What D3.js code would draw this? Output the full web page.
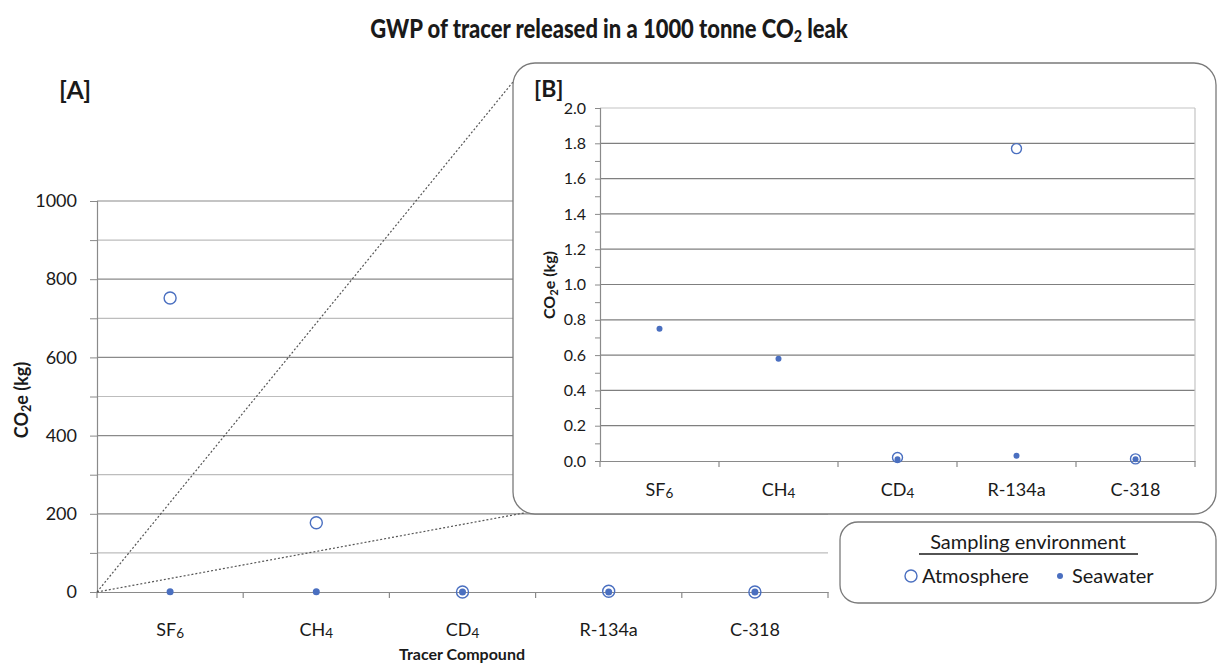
<!DOCTYPE html>
<html>
<head>
<meta charset="utf-8">
<script src="https://cdnjs.cloudflare.com/ajax/libs/d3/7.8.5/d3.min.js"></script>
<style>
  body { margin: 0; background: #fff; }
  text { font-family: Lato, "Open Sans", sans-serif; fill: #1a1a1a; }
</style>
</head>
<body>
<div id="chart"></div>
<script>
// data
var categories = ["SF6", "CH4", "CD4", "R-134a", "C-318"];
var atmosphere = [752, 177, 0.02, 1.77, 0.012];
var seawater   = [0.75, 0.58, 0.01, 0.03, 0.01];
var tickA = [0, 200, 400, 600, 800, 1000];
var tickB = [0, 0.2, 0.4, 0.6, 0.8, 1.0, 1.2, 1.4, 1.6, 1.8, 2.0];

var W = 1218, H = 663;
var blue = "#4a6fc0";

var svg = d3.select("#chart").append("svg")
  .attr("width", W).attr("height", H);

// write "SF6" as SF + subscript 6
function subLabel(sel, str, size) {
  sel.text(null);
  var m = str.match(/^([A-Z]+)(\d)$/);
  if (!m) { sel.text(str); return; }
  sel.append("tspan").text(m[1]);
  sel.append("tspan").attr("font-size", size * 0.75).attr("dy", 2).text(m[2]);
}

function co2Label(g, x, y, size) {
  var t = g.append("text")
    .attr("transform", `translate(${x},${y}) rotate(-90)`)
    .attr("text-anchor", "middle")
    .style("font-weight", "bold").style("font-size", size + "px");
  t.append("tspan").text("CO");
  t.append("tspan").attr("font-size", size * 0.7).attr("dy", 3).text("2");
  t.append("tspan").attr("dy", -3).text("e (kg)");
}

// title (squeezed a bit to match the narrow original face)
var titleG = svg.append("g").attr("transform", "translate(609,38)");
var title = titleG.append("text")
  .attr("text-anchor", "middle")
  .style("font-weight", "900").style("font-size", "26px");
title.append("tspan").text("GWP of tracer released in a 1000 tonne CO");
title.append("tspan").attr("font-size", 17).attr("dy", 4).text("2");
title.append("tspan").attr("dy", -4).text(" leak");
var tw = title.node().getComputedTextLength();
titleG.attr("transform", `translate(609,38) scale(${478 / tw},1)`);

// ---------- chart A ----------
var xA = d3.scaleBand().domain(categories).range([97, 828]);
var yA = d3.scaleLinear().domain([0, 1000]).range([592, 201]);

svg.append("text").attr("x", 59).attr("y", 99)
  .style("font-weight", "bold").style("font-size", "25px").text("[A]");

var gA = svg.append("g");
// minor gridlines (every 100)
gA.selectAll(".minor").data(d3.range(100, 1001, 200)).enter().append("line")
  .attr("x1", 97).attr("x2", 828)
  .attr("y1", d => yA(d)).attr("y2", d => yA(d))
  .attr("stroke", "#bdbdbd").attr("stroke-width", 1.2);
// major gridlines
gA.selectAll(".major").data(tickA.slice(1)).enter().append("line")
  .attr("x1", 97).attr("x2", 828)
  .attr("y1", d => yA(d)).attr("y2", d => yA(d))
  .attr("stroke", "#8a8a8a").attr("stroke-width", 1.2);

// y axis
var yAxisA = gA.append("g").attr("transform", "translate(97,0)")
  .call(d3.axisLeft(yA).tickValues(d3.range(0, 1001, 100)).tickSize(7)
    .tickFormat(d => d % 200 === 0 ? d : ""));
yAxisA.select(".domain").attr("stroke", "#8a8a8a").attr("stroke-width", 1.2);
yAxisA.selectAll(".tick line").attr("stroke", "#8a8a8a");
yAxisA.selectAll(".tick text").attr("x", -20)
  .style("font-size", "18px").style("fill", "#1a1a1a")
  .style("font-family", "Lato, sans-serif");

// x axis
var xAxisA = gA.append("g").attr("transform", `translate(0,${yA(0)})`)
  .call(d3.axisBottom(xA).tickSize(0).tickFormat(""));
xAxisA.select(".domain").attr("stroke", "#8a8a8a").attr("stroke-width", 1.2);
gA.selectAll(".xtickA").data(categories.concat(["end"])).enter().append("line")
  .attr("x1", (d, i) => 97 + i * xA.bandwidth())
  .attr("x2", (d, i) => 97 + i * xA.bandwidth())
  .attr("y1", yA(0)).attr("y2", yA(0) + 6)
  .attr("stroke", "#8a8a8a").attr("stroke-width", 1.2);
gA.selectAll(".catA").data(categories).enter().append("text")
  .attr("x", d => xA(d) + xA.bandwidth() / 2).attr("y", 636)
  .attr("text-anchor", "middle").style("font-size", "18px")
  .each(function(d) { subLabel(d3.select(this), d, 18); });

gA.append("text").attr("x", 462).attr("y", 660)
  .attr("text-anchor", "middle")
  .style("font-weight", "bold").style("font-size", "16px")
  .text("Tracer Compound");
co2Label(gA, 28, 400, 18);

// markers A
gA.selectAll(".atmA").data(atmosphere).enter().append("circle")
  .attr("cx", (d, i) => xA(categories[i]) + xA.bandwidth() / 2)
  .attr("cy", d => yA(d)).attr("r", 6)
  .attr("fill", "none").attr("stroke", blue).attr("stroke-width", 1.4);
gA.selectAll(".seaA").data(seawater).enter().append("circle")
  .attr("cx", (d, i) => xA(categories[i]) + xA.bandwidth() / 2)
  .attr("cy", d => yA(d)).attr("r", 3.5).attr("fill", blue);

// dotted zoom lines
var ox = 97, oy = yA(0);
svg.append("line").attr("x1", ox).attr("y1", oy).attr("x2", 526).attr("y2", 66)
  .attr("stroke", "#555").attr("stroke-width", 1.2).attr("stroke-dasharray", "2,2");
svg.append("line").attr("x1", ox).attr("y1", oy).attr("x2", 524).attr("y2", 513)
  .attr("stroke", "#555").attr("stroke-width", 1.2).attr("stroke-dasharray", "2,2");

// ---------- chart B ----------
svg.append("rect").attr("x", 513).attr("y", 63).attr("width", 703).attr("height", 451)
  .attr("rx", 22).attr("fill", "#fff").attr("stroke", "#7a7a7a").attr("stroke-width", 1.3);

var xB = d3.scaleBand().domain(categories).range([600, 1195]);
var yB = d3.scaleLinear().domain([0, 2]).range([461, 108]);

svg.append("text").attr("x", 534).attr("y", 97)
  .style("font-weight", "bold").style("font-size", "23px").text("[B]");

var gB = svg.append("g");
gB.selectAll(".gridB").data(tickB.slice(1)).enter().append("line")
  .attr("x1", 600).attr("x2", 1195)
  .attr("y1", d => yB(d)).attr("y2", d => yB(d))
  .attr("stroke", d => d === 2 ? "#c4c4c4" : "#7f7f7f").attr("stroke-width", 1.2);
gB.append("line").attr("x1", 1195).attr("x2", 1195).attr("y1", yB(2)).attr("y2", yB(0))
  .attr("stroke", "#c4c4c4").attr("stroke-width", 1.2);

var yAxisB = gB.append("g").attr("transform", "translate(600,0)")
  .call(d3.axisLeft(yB).tickValues(d3.range(0, 21).map(d => d / 10)).tickSize(5)
    .tickFormat(d => Math.round(d * 10) % 2 === 0 ? d3.format(".1f")(d) : ""));
yAxisB.select(".domain").attr("stroke", "#8a8a8a").attr("stroke-width", 1.2);
yAxisB.selectAll(".tick line").attr("stroke", "#8a8a8a");
yAxisB.selectAll(".tick text").attr("x", -14)
  .style("font-size", "16px").style("fill", "#1a1a1a")
  .style("font-family", "Lato, sans-serif");

var xAxisB = gB.append("g").attr("transform", `translate(0,${yB(0)})`)
  .call(d3.axisBottom(xB).tickSize(0).tickFormat(""));
xAxisB.select(".domain").attr("stroke", "#8a8a8a").attr("stroke-width", 1.2);
gB.selectAll(".xtickB").data(categories.concat(["end"])).enter().append("line")
  .attr("x1", (d, i) => 600 + i * xB.bandwidth())
  .attr("x2", (d, i) => 600 + i * xB.bandwidth())
  .attr("y1", yB(0)).attr("y2", yB(0) + 6)
  .attr("stroke", "#8a8a8a").attr("stroke-width", 1.2);
gB.selectAll(".catB").data(categories).enter().append("text")
  .attr("x", d => xB(d) + xB.bandwidth() / 2).attr("y", 496)
  .attr("text-anchor", "middle").style("font-size", "18px")
  .each(function(d) { subLabel(d3.select(this), d, 18); });
co2Label(gB, 555, 285, 16);

gB.selectAll(".atmB").data(atmosphere.map((v, i) => [categories[i], v]).filter(d => d[1] <= 2))
  .enter().append("circle")
  .attr("cx", d => xB(d[0]) + xB.bandwidth() / 2).attr("cy", d => yB(d[1])).attr("r", 5)
  .attr("fill", "none").attr("stroke", blue).attr("stroke-width", 1.4);
gB.selectAll(".seaB").data(seawater.map((v, i) => [categories[i], v]))
  .enter().append("circle")
  .attr("cx", d => xB(d[0]) + xB.bandwidth() / 2).attr("cy", d => yB(d[1])).attr("r", 3)
  .attr("fill", blue);

// ---------- legend ----------
var lg = svg.append("g");
lg.append("rect").attr("x", 840).attr("y", 522).attr("width", 376).attr("height", 81)
  .attr("rx", 18).attr("fill", "#fff").attr("stroke", "#7a7a7a").attr("stroke-width", 1.3);
lg.append("text").attr("x", 1028).attr("y", 549).attr("text-anchor", "middle")
  .style("font-size", "20px").text("Sampling environment");
lg.append("line").attr("x1", 919).attr("x2", 1138).attr("y1", 554).attr("y2", 554)
  .attr("stroke", "#1a1a1a").attr("stroke-width", 1.3);
lg.append("circle").attr("cx", 911).attr("cy", 576).attr("r", 6)
  .attr("fill", "none").attr("stroke", blue).attr("stroke-width", 1.4);
lg.append("text").attr("x", 922).attr("y", 583).style("font-size", "20px").text("Atmosphere");
lg.append("circle").attr("cx", 1060).attr("cy", 576).attr("r", 3)
  .attr("fill", blue);
lg.append("text").attr("x", 1072).attr("y", 583).style("font-size", "20px").text("Seawater");
</script>
</body>
</html>
